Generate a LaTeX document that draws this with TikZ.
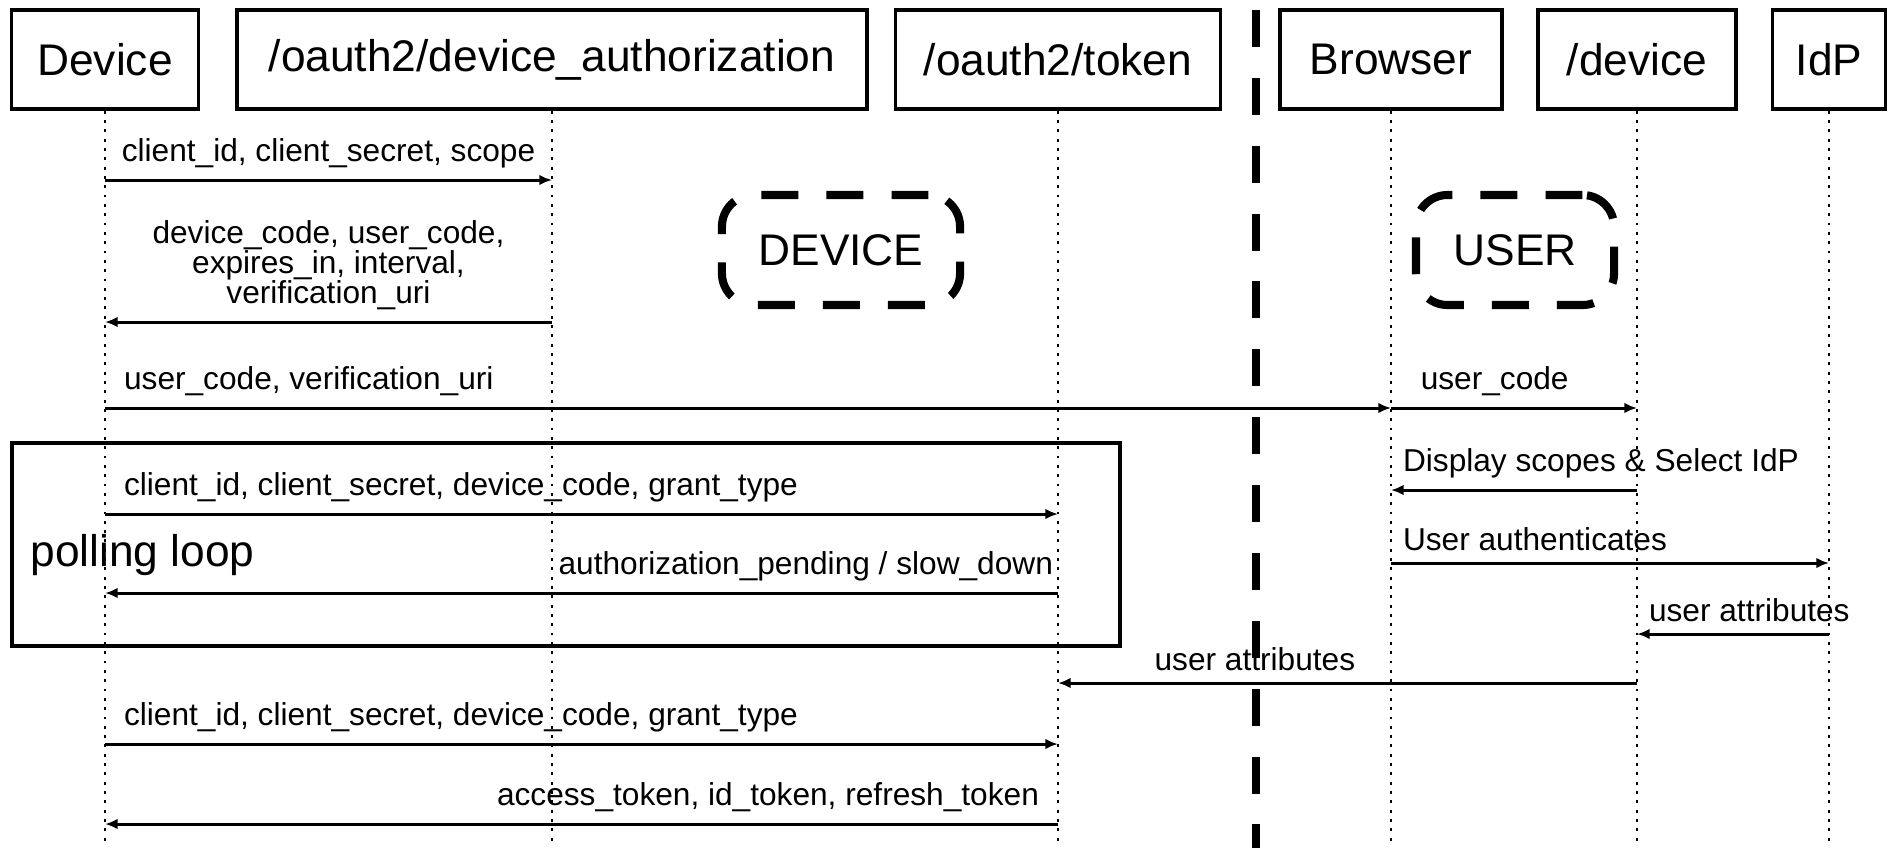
\documentclass[tikz,border=0pt]{standalone}
\usepackage{fontspec}
\setmainfont{Liberation Sans}
\usetikzlibrary{arrows.meta}

\begin{document}
\begin{tikzpicture}[x=0.01cm, y=-0.01cm,
    actor/.style={draw, line width=1pt, minimum height=0.99cm, font=\fontsize{12.6}{15}\selectfont},
    life/.style={line width=0.45pt, dash pattern=on 0.8pt off 1.85pt},
    msg/.style={line width=0.85pt, -{Latex[length=3.6pt, width=3pt]}},
    lbl/.style={font=\fontsize{9}{8.5}\selectfont, inner sep=3pt},
    phase/.style={draw, line width=2.3pt, dash pattern=on 10.5pt off 8pt, rounded corners=9pt, minimum height=1.1cm, font=\fontsize{12.6}{15}\selectfont}]
    \useasboundingbox (0,0) rectangle (1891,848);
    \node[actor, minimum width=1.87cm] (dev) at (105,59.5) {Device};
    \node[actor, minimum width=6.3cm] (auth) at (552,59.5) {/oauth2/device\_authorization};
    \node[actor, minimum width=3.25cm] (tok) at (1058,59.5) {/oauth2/token};
    \node[actor, minimum width=2.22cm] (brw) at (1391,59.5) {Browser};
    \node[actor, minimum width=1.98cm] (dvc) at (1637,59.5) {/device};
    \node[actor, minimum width=1.13cm] (idp) at (1829,59.5) {IdP};
    \coordinate (bot) at (0,845);
    \foreach \a in {dev,auth,tok,brw,dvc,idp}
        \draw[life] (\a.south) -- (\a.south |- bot);
    \foreach \n/\y in {1/180,2/322,3/408,4/514,5/593,6/490,7/563,8/634,9/683,10/744,11/824}
        \coordinate (r\n) at (0,\y);
    \draw[line width=2.3pt, dash pattern=on 10.5pt off 8.8pt] (1256,10) -- (1256,848);
    \node[phase, minimum width=2.38cm] (devph) at (841,250) {DEVICE};
    \node[phase, minimum width=1.98cm] (usrph) at (1515,250) {USER};
    \draw[line width=1.4pt] (12,443) rectangle (1120,646);
    \node[anchor=west, font=\fontsize{12.6}{15}\selectfont] (poll) at (18,555) {polling loop};
    \draw[msg] (dev |- r1) -- node[lbl, above] {client\_id, client\_secret, scope} (auth |- r1);
    \draw[msg] (auth |- r2) -- node[lbl, above, align=center] {device\_code, user\_code,\\expires\_in, interval,\\verification\_uri} (dev |- r2);
    \draw[msg] (dev |- r3) -- node[lbl, above right, pos=0, xshift=2pt] {user\_code, verification\_uri} (brw |- r3);
    \draw[msg] (brw |- r3) -- node[lbl, above, xshift=-5.5pt] {user\_code} (dvc |- r3);
    \draw[msg] (dev |- r4) -- node[lbl, above right, pos=0, xshift=2pt] {client\_id, client\_secret, device\_code, grant\_type} (tok |- r4);
    \draw[msg] (tok |- r5) -- node[lbl, above left, pos=0, xshift=2pt] {authorization\_pending / slow\_down} (dev |- r5);
    \draw[msg] (dvc |- r6) -- node[lbl, above right, pos=1] {Display scopes \& Select IdP} (brw |- r6);
    \draw[msg] (brw |- r7) -- node[lbl, above right, pos=0] {User authenticates} (idp |- r7);
    \draw[msg] (idp |- r8) -- node[lbl, above right, pos=1] {user attributes} (dvc |- r8);
    \draw[msg] (dvc |- r9) -- node[lbl, above, pos=0.66] {user attributes} (tok |- r9);
    \draw[msg] (dev |- r10) -- node[lbl, above right, pos=0, xshift=2pt] {client\_id, client\_secret, device\_code, grant\_type} (tok |- r10);
    \draw[msg] (tok |- r11) -- node[lbl, above left, pos=0, xshift=-2pt] {access\_token, id\_token, refresh\_token} (dev |- r11);
\end{tikzpicture}
\end{document}
